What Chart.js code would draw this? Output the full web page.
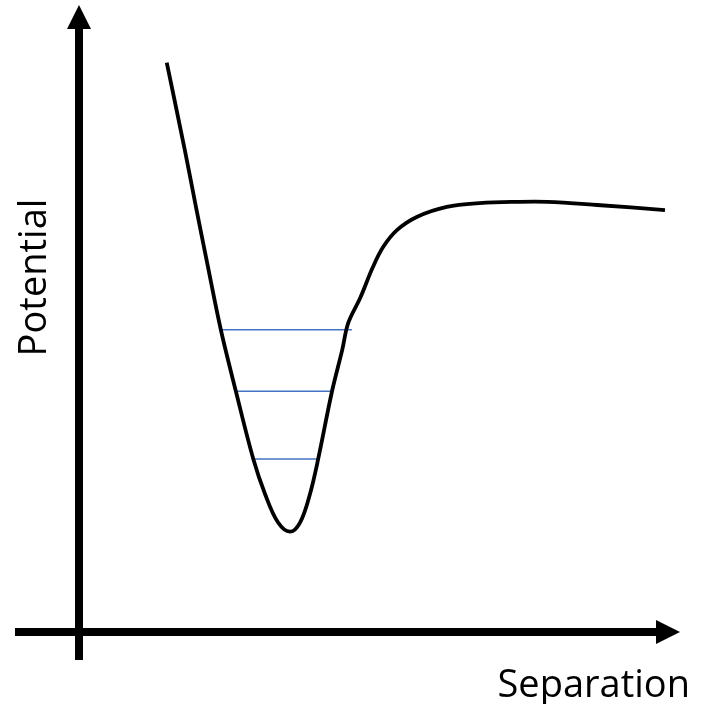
<!DOCTYPE html>
<html>
<head>
<meta charset="utf-8">
<script src="https://cdn.jsdelivr.net/npm/chart.js@4/dist/chart.umd.min.js"></script>
<style>
  html, body { margin: 0; padding: 0; background: #ffffff; }
  #wrap { width: 716px; height: 704px; position: relative; }
</style>
</head>
<body>
<div id="wrap"><canvas id="c"></canvas></div>
<script>
// Potential energy curve
const separation = [1.46, 1.76, 1.94, 2.14, 2.36, 2.61, 2.90, 3.10, 3.31, 3.51, 3.68, 3.84, 3.98, 4.21, 4.38, 4.48, 4.68, 4.89, 5.06, 5.29, 5.62, 6.12, 6.67, 7.29, 7.79, 8.62, 9.75];
const potential  = [9.08, 7.69, 6.81, 5.85, 4.82, 3.84, 2.76, 2.19, 1.75, 1.60, 1.75, 2.19, 2.76, 3.84, 4.50, 4.93, 5.33, 5.82, 6.14, 6.41, 6.62, 6.78, 6.84, 6.86, 6.86, 6.81, 6.73];

// Vibrational energy levels
const levelEnergy = [4.82, 3.84, 2.76];
const levelLeft   = [2.36, 2.60, 2.90];
const levelRight  = [4.54, 4.23, 3.96];

const xTitle = 'Separation';
const yTitle = 'Potential';

const curveData = separation.map((s, i) => ({ x: s, y: potential[i] }));

const datasets = [{
  label: 'Potential',
  data: curveData,
  borderColor: '#000000',
  borderWidth: 3.8,
  pointRadius: 0,
  fill: false,
  tension: 0.35
}];
levelEnergy.forEach((e, i) => {
  datasets.push({
    label: 'Level ' + (i + 1),
    data: [{ x: levelLeft[i], y: e }, { x: levelRight[i], y: e }],
    borderColor: '#4472C4',
    borderWidth: 1.5,
    pointRadius: 0,
    fill: false,
    tension: 0
  });
});

const axisArrows = {
  id: 'axisArrows',
  afterDatasetsDraw(chart) {
    const ctx = chart.ctx;
    const xs = chart.scales.x, ys = chart.scales.y;
    const ox = xs.getPixelForValue(0);
    const oy = ys.getPixelForValue(0);
    const top = ys.getPixelForValue(ys.max);
    const right = xs.getPixelForValue(xs.max);
    ctx.save();
    ctx.strokeStyle = '#000';
    ctx.fillStyle = '#000';
    ctx.lineWidth = 8;
    ctx.lineCap = 'butt';
    // y axis
    ctx.beginPath();
    ctx.moveTo(ox, oy + 28);
    ctx.lineTo(ox, top + 24);
    ctx.stroke();
    ctx.beginPath();
    ctx.moveTo(ox, top);
    ctx.lineTo(ox - 12, top + 24);
    ctx.lineTo(ox + 12, top + 24);
    ctx.closePath();
    ctx.fill();
    // x axis
    ctx.beginPath();
    ctx.moveTo(ox - 64, oy);
    ctx.lineTo(right - 22, oy);
    ctx.stroke();
    ctx.beginPath();
    ctx.moveTo(right, oy);
    ctx.lineTo(right - 24, oy - 12);
    ctx.lineTo(right - 24, oy + 12);
    ctx.closePath();
    ctx.fill();
    // titles
    ctx.font = '38px "Open Sans", "Noto Sans", sans-serif';
    ctx.textAlign = 'right';
    ctx.textBaseline = 'alphabetic';
    ctx.fillText(xTitle, right + 10, oy + 65);
    ctx.save();
    ctx.translate(ox - 33, (top + oy) / 2 - 41);
    ctx.rotate(-Math.PI / 2);
    ctx.textAlign = 'center';
    ctx.fillText(yTitle, 0, 0);
    ctx.restore();
    ctx.restore();
  }
};

new Chart(document.getElementById('c'), {
  type: 'line',
  data: { datasets },
  options: {
    responsive: true,
    maintainAspectRatio: false,
    animation: false,
    layout: { padding: { left: 79, right: 36, top: 5, bottom: 72 } },
    plugins: { legend: { display: false }, tooltip: { enabled: false }, title: { display: false } },
    scales: {
      x: { type: 'linear', min: 0, max: 10, display: false },
      y: { type: 'linear', min: 0, max: 10, display: false }
    }
  },
  plugins: [axisArrows]
});
</script>
</body>
</html>
